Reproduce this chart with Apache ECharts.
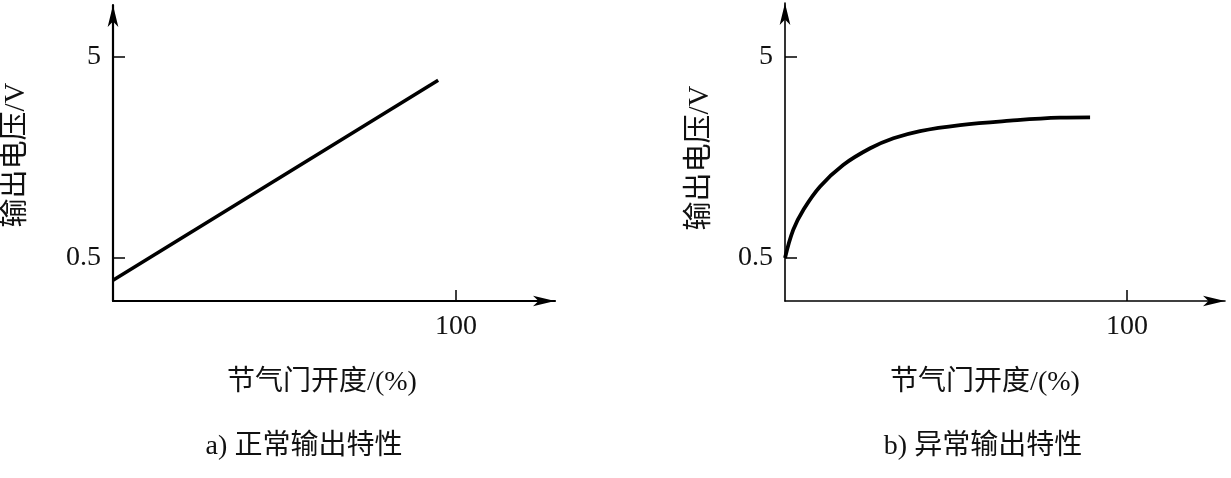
<!DOCTYPE html>
<html>
<head>
<meta charset="utf-8">
<script src="https://cdn.jsdelivr.net/npm/echarts@6/dist/echarts.min.js"></script>
<style>
html,body{margin:0;padding:0;background:#fff;}
#c{width:1231px;height:478px;}
</style>
</head>
<body>
<div id="c"></div>
<script>
// ---- data ----
const yTickValues = [0.5, 5];
const xTickValues = [100];
const yAxisName = '输出电压/V';
const xAxisName = '节气门开度/(%)';
const captionA = 'a) 正常输出特性';
const captionB = 'b) 异常输出特性';
// a) normal: straight line
const normalX = [0, 94.8];
const normalY = [0.0, 4.48];
// b) abnormal: saturating curve
const abnormalX = [0, 2.4, 5.35, 10.2, 17.0, 24.9, 31.7, 39.5, 51.2, 65.8, 80.4, 89.2];
const abnormalY = [0.5, 1.13, 1.575, 2.096, 2.582, 2.956, 3.18, 3.343, 3.477, 3.574, 3.641, 3.65];

const FONT = '"Liberation Serif", "Noto Sans CJK SC", serif';
const chart = echarts.init(document.getElementById('c'), null, {renderer: 'canvas'});

function pairs(xs, ys){ return xs.map((x, i) => [x, ys[i]]); }

function xAxisCfg(idx, max, lw){
  return {
    type: 'value', gridIndex: idx, min: 0, max: max,
    axisLine: {show: true, onZero: false, lineStyle: {color: '#000', width: lw}, symbol: ['none', 'arrow'], symbolSize: [8, 22]},
    axisTick: {show: true, inside: true, length: 11, customValues: xTickValues, lineStyle: {color: '#000', width: 1.5}},
    axisLabel: {show: true, customValues: xTickValues, color: '#111', fontSize: 28, fontFamily: FONT, margin: 12},
    splitLine: {show: false}
  };
}
function yAxisCfg(idx, min, max, lw){
  return {
    type: 'value', gridIndex: idx, min: min, max: max,
    axisLine: {show: true, onZero: false, lineStyle: {color: '#000', width: lw}, symbol: ['none', 'arrow'], symbolSize: [8, 22]},
    axisTick: {show: true, inside: true, length: 12, customValues: yTickValues, lineStyle: {color: '#000', width: 1.5}},
    axisLabel: {show: true, customValues: yTickValues, color: '#111', fontSize: 28, fontFamily: FONT, margin: 12},
    splitLine: {show: false}
  };
}

const option = {
  backgroundColor: '#fff',
  animation: false,
  grid: [
    {left: 113, top: 5, width: 442, height: 296},
    {left: 785, top: 3, width: 440, height: 298}
  ],
  xAxis: [xAxisCfg(0, 128.86, 2.2), xAxisCfg(1, 128.65, 1.6)],
  yAxis: [yAxisCfg(0, -0.4626, 6.164, 2.2), yAxisCfg(1, -0.4626, 6.209, 1.6)],
  series: [
    {type: 'line', xAxisIndex: 0, yAxisIndex: 0, data: pairs(normalX, normalY), symbol: 'none',
     lineStyle: {color: '#000', width: 3.5}},
    {type: 'line', xAxisIndex: 1, yAxisIndex: 1, data: pairs(abnormalX, abnormalY), symbol: 'none', smooth: 0.4,
     lineStyle: {color: '#000', width: 3.8}}
  ],
  graphic: [
    {type: 'text', x: 16, y: 155, rotation: Math.PI / 2,
     style: {text: yAxisName, font: '29px ' + FONT, fill: '#111', align: 'center', verticalAlign: 'middle'}},
    {type: 'text', x: 700, y: 158, rotation: Math.PI / 2,
     style: {text: yAxisName, font: '29px ' + FONT, fill: '#111', align: 'center', verticalAlign: 'middle'}},
    {type: 'text', x: 322, y: 383,
     style: {text: xAxisName, font: '28px ' + FONT, fill: '#111', align: 'center', verticalAlign: 'middle'}},
    {type: 'text', x: 985, y: 383,
     style: {text: xAxisName, font: '28px ' + FONT, fill: '#111', align: 'center', verticalAlign: 'middle'}},
    {type: 'text', x: 304, y: 447,
     style: {text: captionA, font: '28px ' + FONT, fill: '#111', align: 'center', verticalAlign: 'middle'}},
    {type: 'text', x: 983, y: 447,
     style: {text: captionB, font: '28px ' + FONT, fill: '#111', align: 'center', verticalAlign: 'middle'}}
  ]
};
chart.setOption(option);
</script>
</body>
</html>
